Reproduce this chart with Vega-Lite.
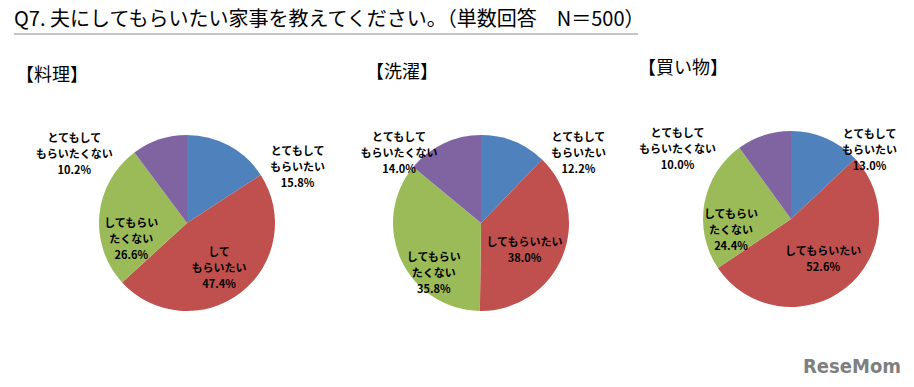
{
  "$schema": "https://vega.github.io/schema/vega-lite/v6.json",
  "padding": {"left": 13, "top": 9, "right": 0, "bottom": 0},
  "background": "white",
  "bounds": "flush",
  "spacing": 100,
  "title": {"text": "ReseMom", "orient": "bottom", "anchor": "end", "frame": "bounds", "font": "DejaVu Sans Condensed", "fontWeight": "bold", "fontSize": 20, "color": "#7f7f7f", "offset": 46, "dx": -14},
  "datasets": {
    "pies": [
      {"chore": "料理", "category": "とてもしてもらいたい", "rank": 1, "pct": 15.8, "label": ["とてもして", "もらいたい", "15.8%"]},
      {"chore": "料理", "category": "してもらいたい", "rank": 2, "pct": 47.4, "label": ["して", "もらいたい", "47.4%"]},
      {"chore": "料理", "category": "してもらいたくない", "rank": 3, "pct": 26.6, "label": ["してもらい", "たくない", "26.6%"]},
      {"chore": "料理", "category": "とてもしてもらいたくない", "rank": 4, "pct": 10.2, "label": ["とてもして", "もらいたくない", "10.2%"]},
      {"chore": "洗濯", "category": "とてもしてもらいたい", "rank": 1, "pct": 12.2, "label": ["とてもして", "もらいたい", "12.2%"]},
      {"chore": "洗濯", "category": "してもらいたい", "rank": 2, "pct": 38.0, "label": ["してもらいたい", "38.0%"]},
      {"chore": "洗濯", "category": "してもらいたくない", "rank": 3, "pct": 35.8, "label": ["してもらい", "たくない", "35.8%"]},
      {"chore": "洗濯", "category": "とてもしてもらいたくない", "rank": 4, "pct": 14.0, "label": ["とてもして", "もらいたくない", "14.0%"]},
      {"chore": "買い物", "category": "とてもしてもらいたい", "rank": 1, "pct": 13.0, "label": ["とてもして", "もらいたい", "13.0%"]},
      {"chore": "買い物", "category": "してもらいたい", "rank": 2, "pct": 52.6, "label": ["してもらいたい", "52.6%"]},
      {"chore": "買い物", "category": "してもらいたくない", "rank": 3, "pct": 24.4, "label": ["してもらい", "たくない", "24.4%"]},
      {"chore": "買い物", "category": "とてもしてもらいたくない", "rank": 4, "pct": 10.0, "label": ["とてもして", "もらいたくない", "10.0%"]}
    ]
  },
  "config": {
    "view": {"stroke": null},
    "title": {"font": "Noto Sans CJK JP", "fontWeight": "normal", "color": "#000000", "anchor": "start", "frame": "group"},
    "text": {"font": "Noto Sans CJK JP", "fontSize": 11, "fontWeight": "bold", "color": "#000000", "lineHeight": 16, "align": "center", "baseline": "middle"}
  },
  "vconcat": [
    {
      "width": 624,
      "height": 1,
      "title": {"text": "Q7. 夫にしてもらいたい家事を教えてください。（単数回答　N＝500）", "fontSize": 20, "offset": 4},
      "data": {"values": [{"element": "underline"}]},
      "mark": {"type": "rule", "color": "#8c8c8c", "strokeWidth": 1},
      "encoding": {"y": {"value": 0}}
    },
    {
      "bounds": "flush",
      "spacing": 10,
      "hconcat": [
        {"width": 55, "height": 176, "data": {"values": []}, "mark": "point"},
        {
          "width": 216, "height": 176,
          "title": {"text": "【料理】", "fontSize": 18, "dx": -63, "offset": 48},
          "data": {"name": "pies"},
          "transform": [{"filter": "datum.chore === '料理'"}],
          "encoding": {
            "theta": {"field": "pct", "type": "quantitative", "stack": true},
            "order": {"field": "rank", "type": "quantitative"}
          },
          "layer": [
            {"mark": {"type": "arc"}, "encoding": {"color": {"field": "category", "type": "nominal", "legend": null, "scale": {"domain": ["とてもしてもらいたい", "してもらいたい", "してもらいたくない", "とてもしてもらいたくない"], "range": ["#4F81BD", "#C0504D", "#9BBB59", "#8064A2"]}}}},
            {"mark": {"type": "text", "radius": 81, "dx": 72}, "encoding": {"text": {"condition": {"test": "datum.rank !== 1", "value": ""}, "field": "label", "type": "nominal"}}},
            {"mark": {"type": "text", "radius": 44, "dx": 5, "dy": -5}, "encoding": {"text": {"condition": {"test": "datum.rank !== 2", "value": ""}, "field": "label", "type": "nominal"}}},
            {"mark": {"type": "text", "radius": 56, "dy": 6}, "encoding": {"text": {"condition": {"test": "datum.rank !== 3", "value": ""}, "field": "label", "type": "nominal"}}},
            {"mark": {"type": "text", "radius": 88, "dx": -85}, "encoding": {"text": {"condition": {"test": "datum.rank !== 4", "value": ""}, "field": "label", "type": "nominal"}}}
          ]
        },
        {
          "width": 352, "height": 176,
          "title": {"text": "【洗濯】", "fontSize": 18, "dx": 61, "offset": 48},
          "data": {"name": "pies"},
          "transform": [{"filter": "datum.chore === '洗濯'"}],
          "encoding": {
            "theta": {"field": "pct", "type": "quantitative", "stack": true},
            "order": {"field": "rank", "type": "quantitative"}
          },
          "layer": [
            {"mark": {"type": "arc"}, "encoding": {"color": {"field": "category", "type": "nominal", "legend": null, "scale": {"domain": ["とてもしてもらいたい", "してもらいたい", "してもらいたくない", "とてもしてもらいたくない"], "range": ["#4F81BD", "#C0504D", "#9BBB59", "#8064A2"]}}}},
            {"mark": {"type": "text", "radius": 92, "dx": 63}, "encoding": {"text": {"condition": {"test": "datum.rank !== 1", "value": ""}, "field": "label", "type": "nominal"}}},
            {"mark": {"type": "text", "radius": 47, "dy": 2}, "encoding": {"text": {"condition": {"test": "datum.rank !== 2", "value": ""}, "field": "label", "type": "nominal"}}},
            {"mark": {"type": "text", "radius": 52, "dy": 13}, "encoding": {"text": {"condition": {"test": "datum.rank !== 3", "value": ""}, "field": "label", "type": "nominal"}}},
            {"mark": {"type": "text", "radius": 94, "dx": -42}, "encoding": {"text": {"condition": {"test": "datum.rank !== 4", "value": ""}, "field": "label", "type": "nominal"}}}
          ]
        },
        {
          "width": 248, "height": 176,
          "title": {"text": "【買い物】", "fontSize": 18, "dx": -29, "offset": 48},
          "data": {"name": "pies"},
          "transform": [{"filter": "datum.chore === '買い物'"}],
          "encoding": {
            "theta": {"field": "pct", "type": "quantitative", "stack": true},
            "order": {"field": "rank", "type": "quantitative"}
          },
          "layer": [
            {"mark": {"type": "arc", "yOffset": -4}, "encoding": {"color": {"field": "category", "type": "nominal", "legend": null, "scale": {"domain": ["とてもしてもらいたい", "してもらいたい", "してもらいたくない", "とてもしてもらいたくない"], "range": ["#4F81BD", "#C0504D", "#9BBB59", "#8064A2"]}}}},
            {"mark": {"type": "text", "radius": 92, "dx": 42, "dy": -4}, "encoding": {"text": {"condition": {"test": "datum.rank !== 1", "value": ""}, "field": "label", "type": "nominal"}}},
            {"mark": {"type": "text", "radius": 42, "dx": 6, "dy": -4}, "encoding": {"text": {"condition": {"test": "datum.rank !== 2", "value": ""}, "field": "label", "type": "nominal"}}},
            {"mark": {"type": "text", "radius": 61, "dy": 3}, "encoding": {"text": {"condition": {"test": "datum.rank !== 3", "value": ""}, "field": "label", "type": "nominal"}}},
            {"mark": {"type": "text", "radius": 89, "dx": -86, "dy": -4}, "encoding": {"text": {"condition": {"test": "datum.rank !== 4", "value": ""}, "field": "label", "type": "nominal"}}}
          ]
        }
      ]
    }
  ]
}
